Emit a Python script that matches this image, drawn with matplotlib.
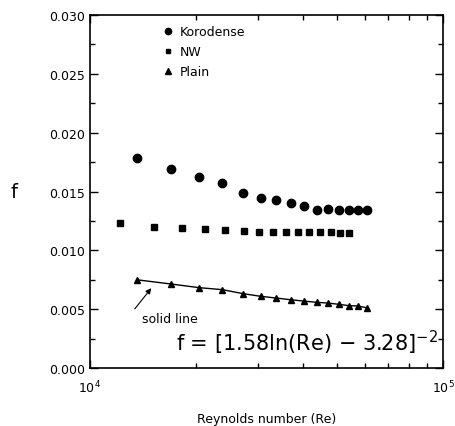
import matplotlib
matplotlib.use("Agg")
import matplotlib.pyplot as plt
from matplotlib.ticker import FixedLocator, NullFormatter, MultipleLocator
from matplotlib.lines import Line2D
import numpy as np

# values
re_kor = [13560, 16960, 20360, 23700, 27130, 30500, 33580, 37100, 40310,
          43960, 47320, 50750, 54060, 57330, 60800]
f_kor = [0.01785, 0.01691, 0.01621, 0.01570, 0.01490, 0.01445, 0.01428,
         0.01405, 0.01380, 0.01345, 0.01350, 0.01345, 0.01345, 0.01345, 0.01343]

re_nw = [12160, 15150, 18190, 21220, 24170, 27250, 30110, 32930, 35920,
         38920, 41820, 44830, 48060, 50980, 54060]
f_nw = [0.01230, 0.01198, 0.01190, 0.01181, 0.01173, 0.01164, 0.01156,
        0.01156, 0.01156, 0.01156, 0.01156, 0.01156, 0.01156, 0.01150, 0.01150]

re_plain = re_kor
f_plain = [0.00750, 0.00714, 0.00683, 0.00666, 0.00632, 0.00609, 0.00595,
           0.00580, 0.00569, 0.00558, 0.00552, 0.00541, 0.00530, 0.00527, 0.00512]

ytick_vals = [0.000, 0.005, 0.010, 0.015, 0.020, 0.025, 0.030]
ytick_labels = ["0.000", "0.005", "0.010", "0.015", "0.020", "0.025", "0.030"]

fig = plt.figure(figsize=(4.55, 4.27), dpi=100)
ax = fig.add_axes([0.1978, 0.1358, 0.9736 - 0.1978, 0.9625 - 0.1358])

ax.plot(re_kor, f_kor, "o", color="black", markersize=6)
ax.plot(re_nw, f_nw, "s", color="black", markersize=4.3)
ax.plot(re_plain, f_plain, "-^", color="black", markersize=4.8, lw=1.0)

ax.set_xscale("log")
ax.set_xlim(1e4, 1e5)
ax.set_ylim(0, 0.030)

ax.set_xticks([1e4, 1e5])
ax.set_xticklabels([r"$10^4$", r"$10^5$"], fontsize=9)
ax.xaxis.set_minor_locator(FixedLocator([k * 1e4 for k in range(2, 10)]))
ax.xaxis.set_minor_formatter(NullFormatter())

ax.set_yticks(ytick_vals)
ax.set_yticklabels(ytick_labels, fontsize=9)
ax.yaxis.set_minor_locator(MultipleLocator(0.0025))

ax.tick_params(which="both", direction="in", top=True, right=True, width=1)
ax.tick_params(which="major", length=6)
ax.tick_params(which="minor", length=3.5)
ax.tick_params(axis="x", pad=8)
for s in ax.spines.values():
    s.set_linewidth(1.2)

ax.set_xlabel("Reynolds number (Re)", fontsize=9, labelpad=12)
fig.text(0.031, 1 - 193 / 427, "f", fontsize=14, ha="center", va="center")

# legend with markers only
handles = [
    Line2D([], [], ls="none", marker="o", color="black", markersize=4.5),
    Line2D([], [], ls="none", marker="s", color="black", markersize=3.5),
    Line2D([], [], ls="none", marker="^", color="black", markersize=4.0),
]
ax.legend(handles, ["Korodense", "NW", "Plain"], loc="upper left",
          bbox_to_anchor=(0.188, 0.985), frameon=False, fontsize=9,
          handletextpad=0.5, labelspacing=0.55, handlelength=1.0,
          borderaxespad=0)

# arrow and note for the solid line
ax.annotate("", xy=(15085, 0.00697), xytext=(13240, 0.00484),
            arrowprops=dict(arrowstyle="-|>", color="black", lw=0.8,
                            mutation_scale=8))
ax.text(14040, 0.00425, "solid line", fontsize=9, va="center", ha="left")
ax.text(0.985, 0.075, r"f = [1.58ln(Re) $-$ 3.28]$^{-2}$", transform=ax.transAxes,
        fontsize=15, ha="right", va="center")

fig.savefig("out.png", dpi=100)
